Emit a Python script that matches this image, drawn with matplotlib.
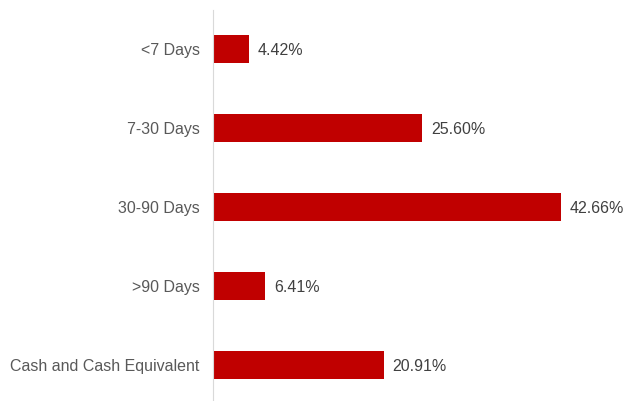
import matplotlib.pyplot as plt

categories = ['<7 Days', '7-30 Days', '30-90 Days', '>90 Days', 'Cash and Cash Equivalent']
values = [4.42, 25.60, 42.66, 6.41, 20.91]
labels = ['4.42%', '25.60%', '42.66%', '6.41%', '20.91%']

plt.rcParams['font.family'] = ['Liberation Sans', 'DejaVu Sans']

fig = plt.figure(figsize=(6.25, 4.01), dpi=100)
W, H = 625, 401
ax = fig.add_axes([213 / W, 1 / H, 412 / W, 390 / H])

pos = list(range(len(categories)))
bars = ax.barh(pos, values, height=0.355, color='#C00000')
for b, lab in zip(bars, labels):
    ax.annotate(lab, (b.get_width(), b.get_y() + b.get_height() / 2),
                xytext=(6.5, 0), textcoords='offset points', va='center_baseline',
                fontsize=11.5, color='#404040')

ax.set_xlim(0, 42.66 * 412 / 348)
ax.set_ylim(4 + 0.443, -0.494)
ax.set_yticks(pos)
ax.set_yticklabels(categories, fontsize=11.5, color='#595959', va='center_baseline')
ax.tick_params(axis='y', length=0, pad=9.5)
ax.set_xticks([])
for s in ['top', 'right', 'bottom']:
    ax.spines[s].set_visible(False)
ax.spines['left'].set_color('#D9D9D9')

fig.savefig('out.png', dpi=100)
